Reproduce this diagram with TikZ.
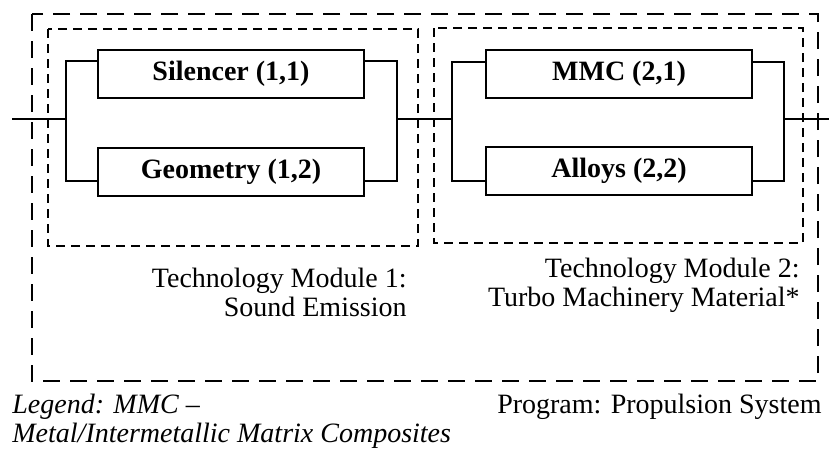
\documentclass[tikz,border=0pt]{standalone}
\usepackage{fontspec}
\setmainfont{Liberation Serif}
\begin{document}
\begin{tikzpicture}[x=0.5pt,y=-0.5pt,
    comp/.style={draw,line width=1pt,minimum width=133pt,minimum
        height=24pt,inner sep=0pt,font=\fontsize{14}{14.5}\selectfont\bfseries},
    wire/.style={line width=1pt},
    module/.style={line width=1pt,dash pattern=on 4.5pt off 3pt},
    prog/.style={line width=1.1pt,dash pattern=on 8.5pt off 5pt},
    txt/.style={inner sep=0pt,align=right,font=\fontsize{14}{14.5}\selectfont}]
    \useasboundingbox (0,0) rectangle (829,450);

    % the blocks
    \node[comp] (sil) at (231,74) {Silencer (1,1)};
    \node[comp] (geo) at (231,171.5) {Geometry (1,2)};
    \node[comp] (mmc) at (619,73.5) {MMC (2,1)};
    \node[comp] (alloy) at (619,171) {Alloys (2,2)};

    % junctions of the line
    \coordinate (in) at (12,119);
    \coordinate (j1) at (66,119);
    \coordinate (k1) at (397,119);
    \coordinate (j2) at (452,119);
    \coordinate (k2) at (784,119);
    \coordinate (out) at (829,119);

    \draw[wire] ([yshift=6.5pt]sil.west) -| (j1) |- ([yshift=-4.75pt]geo.west);
    \draw[wire] ([yshift=6.5pt]sil.east) -| (k1) |- ([yshift=-4.75pt]geo.east);
    \draw[wire] ([yshift=6pt]mmc.west) -| (j2) |- ([yshift=-5pt]alloy.west);
    \draw[wire] ([yshift=6pt]mmc.east) -| (k2) |- ([yshift=-5pt]alloy.east);
    \draw[wire] (in) -- (j1);
    \draw[wire] (k1) -- (j2);
    \draw[wire] (k2) -- (out);

    % the modules and the program
    \draw[module] (48,29) rectangle (418,246);
    \draw[module] (434,28) rectangle (803,243);
    \draw[prog] (32,14) rectangle (818,381);

    % the texts
    \node[txt,anchor=north east] (mod1) at (407,268)
        {Technology Module 1:\\Sound Emission};
    \node[txt,anchor=north east] (mod2) at (800,258)
        {Technology Module 2:\\Turbo Machinery Material*};
    \node[txt,anchor=north west,align=left,font=\fontsize{14}{14.5}\selectfont\itshape]
        (legend) at (12,394) {Legend: MMC --\\Metal/Intermetallic Matrix Composites};
    \node[txt,anchor=north east] (program) at (822,394)
        {Program: Propulsion System};
  \end{tikzpicture}
\end{document}
